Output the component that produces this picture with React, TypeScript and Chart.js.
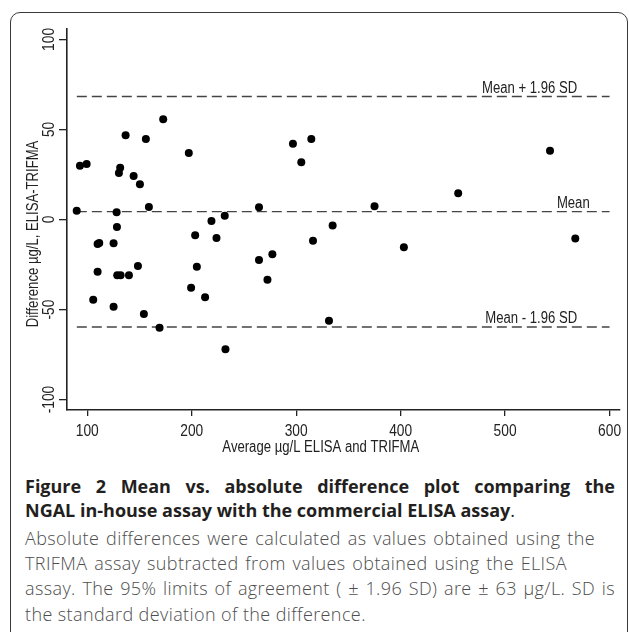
import React, { useEffect, useRef } from 'react';
import { Chart, registerables } from 'chart.js';

Chart.register(...registerables);

// Average of ELISA and TRIFMA (µg/L)
const avgValues = [
  89.9, 93.0, 99.4, 105.7, 109.9, 111.5, 109.9, 125.2, 125.2, 128.1,
  128.4, 130.3, 131.5, 128.7, 131.9, 136.7, 139.9, 144.4, 148.5, 150.4,
  154.2, 156.1, 159.0, 169.2, 172.7, 197.2, 199.4, 203.3, 204.9, 212.8,
  218.9, 223.7, 231.6, 232.3, 264.4, 264.4, 272.5, 277.2, 296.9, 304.9,
  314.5, 316.1, 331.4, 334.9, 375.0, 403.1, 455.1, 543.0, 567.2,
];
// Difference ELISA - TRIFMA (µg/L)
const diffValues = [
  4.9, 29.9, 30.8, -44.6, -13.6, -13.1, -29.0, -13.2, -48.4, 4.0,
  -4.2, 25.8, 28.8, -31.0, -31.0, 46.8, -31.0, 24.2, -25.8, 19.6,
  -52.5, 44.7, 6.9, -60.1, 55.7, 36.9, -37.9, -8.8, -26.2, -43.2,
  -0.8, -10.3, 2.1, -72.1, 6.8, -22.5, -33.4, -19.3, 42.1, 31.8,
  44.7, -11.8, -56.2, -3.4, 7.3, -15.4, 14.6, 38.2, -10.5,
];

const refLevels = [68.3, 4.4, -59.7];
const refLabels = ['Mean + 1.96 SD', 'Mean', 'Mean - 1.96 SD'];
const refLabelRight = [569, 581, 569];
const refLineRange = [90, 600];

const xTicks = [100, 200, 300, 400, 500, 600];
const yTicks = [-100, -50, 0, 50, 100];
const xRange = [80.6, 610];
const yRange = [-105.8, 105.8];

const xTitle = 'Average µg/L ELISA and TRIFMA';
const yTitle = 'Difference µg/L, ELISA-TRIFMA';

const captionBold1 = 'Figure 2 Mean vs. absolute difference plot comparing the';
const captionBold2 = 'NGAL in-house assay with the commercial ELISA assay';
const captionLines = [
  'Absolute differences were calculated as values obtained using the',
  'TRIFMA assay subtracted from values obtained using the ELISA',
  'assay. The 95% limits of agreement ( \u00b1 1.96 SD) are \u00b1 63 \u00b5g/L. SD is',
  'the standard deviation of the difference.',
];

const CHART_FONT = "'Liberation Sans', Arial, sans-serif";
const NARROW = 0.82;
const CAPTION_FONT = "'Open Sans', 'Noto Sans', sans-serif";

function narrowText(
  ctx: CanvasRenderingContext2D,
  text: string,
  x: number,
  y: number,
  align: CanvasTextAlign,
  baseline: CanvasTextBaseline,
  rotate = 0,
) {
  ctx.save();
  ctx.translate(x, y);
  if (rotate) ctx.rotate(rotate);
  ctx.scale(NARROW, 1);
  ctx.textAlign = align;
  ctx.textBaseline = baseline;
  ctx.fillText(text, 0, 0);
  ctx.restore();
}

export default function App() {
  const canvasRef = useRef<HTMLCanvasElement | null>(null);

  useEffect(() => {
    const canvas = canvasRef.current;
    if (!canvas) return;

    const textPlugin = {
      id: 'customText',
      afterDraw(chart: any) {
        const ctx = chart.ctx as CanvasRenderingContext2D;
        const xs = chart.scales.x;
        const ys = chart.scales.y;
        const area = chart.chartArea;
        ctx.save();
        ctx.fillStyle = '#222';
        ctx.font = `16.8px ${CHART_FONT}`;
        // x tick labels
        xs.ticks.forEach((t: any) => {
          narrowText(ctx, String(t.value), xs.getPixelForValue(t.value), area.bottom + 21, 'center', 'middle');
        });
        // y tick labels (rotated)
        ys.ticks.forEach((t: any) => {
          narrowText(ctx, String(t.value), area.left - 18, ys.getPixelForValue(t.value), 'center', 'middle', -Math.PI / 2);
        });
        // reference line labels
        ctx.font = `16px ${CHART_FONT}`;
        refLevels.forEach((lv, i) => {
          narrowText(ctx, refLabels[i], xs.getPixelForValue(refLabelRight[i]), ys.getPixelForValue(lv) - 4, 'right', 'alphabetic');
        });
        // axis titles
        ctx.font = `16px ${CHART_FONT}`;
        narrowText(ctx, xTitle, area.left + (area.right - area.left) * 0.459, area.bottom + 38, 'center', 'middle');
        narrowText(ctx, yTitle, area.left - 33, area.top + (area.bottom - area.top) * 0.538, 'center', 'middle', -Math.PI / 2);
        ctx.restore();
      },
    };

    const refDatasets = refLevels.map((lv) => ({
      data: refLineRange.map((x) => ({ x, y: lv })),
      showLine: true,
      borderColor: '#444',
      borderWidth: 1.3,
      borderDash: [10, 5],
      pointRadius: 0,
      fill: false,
    }));

    const chart = new Chart(canvas, {
      type: 'scatter',
      data: {
        datasets: [
          {
            data: avgValues.map((x, i) => ({ x, y: diffValues[i] })),
            backgroundColor: '#000',
            borderWidth: 0,
            pointRadius: 4,
            pointHoverRadius: 4,
          },
          ...refDatasets,
        ] as any,
      },
      options: {
        responsive: false,
        animation: false,
        layout: { padding: { top: 29, right: 9, left: 0, bottom: 0 } },
        plugins: { legend: { display: false }, tooltip: { enabled: false } },
        scales: {
          x: {
            type: 'linear',
            position: 'bottom',
            min: xRange[0],
            max: xRange[1],
            afterBuildTicks: (s: any) => {
              s.ticks = xTicks.map((v) => ({ value: v }));
            },
            afterFit: (s: any) => {
              s.height = 50;
            },
            grid: { drawOnChartArea: false, drawTicks: true, tickLength: 6, color: '#222', lineWidth: 1.3 },
            border: { display: true, color: '#222', width: 1.6 },
            ticks: { display: false },
          },
          y: {
            type: 'linear',
            position: 'left',
            min: yRange[0],
            max: yRange[1],
            afterBuildTicks: (s: any) => {
              s.ticks = yTicks.map((v) => ({ value: v }));
            },
            afterFit: (s: any) => {
              s.width = 67;
            },
            grid: { drawOnChartArea: false, drawTicks: true, tickLength: 8, color: '#222', lineWidth: 1.3 },
            border: { display: true, color: '#222', width: 1.6 },
            ticks: { display: false },
          },
        },
      } as any,
      plugins: [textPlugin],
    });

    return () => chart.destroy();
  }, []);

  const boldStyle: React.CSSProperties = {
    position: 'absolute',
    left: 25,
    fontFamily: CAPTION_FONT,
    fontWeight: 700,
    fontSize: 18,
    lineHeight: '20px',
    color: '#231f20',
    whiteSpace: 'nowrap',
  };
  const regStyle: React.CSSProperties = {
    position: 'absolute',
    left: 25,
    fontFamily: CAPTION_FONT,
    fontWeight: 300,
    fontSize: 18,
    letterSpacing: '0.4px',
    lineHeight: '20px',
    color: '#4d4d4d',
    whiteSpace: 'nowrap',
  };
  const regTops = [528, 553, 578, 604];
  const regWidths = [570, 542, 590, 0];

  return (
    <div
      style={{
        position: 'absolute',
        left: 0,
        top: 0,
        width: 629,
        height: 632,
        overflow: 'hidden',
        background: '#fff',
      }}
    >
      <div
        style={{
          position: 'absolute',
          left: 10,
          top: 12,
          width: 618,
          height: 700,
          border: '1.5px solid #3a3a3a',
          borderRadius: 10,
          boxSizing: 'border-box',
        }}
      />
      <canvas
        ref={canvasRef}
        width={629}
        height={460}
        style={{ position: 'absolute', left: 0, top: 0, width: 629, height: 460 }}
      />
      <div style={{ ...boldStyle, top: 476, width: 590, textAlign: 'justify', textAlignLast: 'justify', whiteSpace: 'normal' }}>
        {captionBold1}
      </div>
      <div style={{ ...boldStyle, top: 500 }}>
        {captionBold2}
        <span style={{ fontWeight: 400 }}>.</span>
      </div>
      {captionLines.map((line, i) => (
        <div
          key={i}
          style={
            regWidths[i] > 0
              ? { ...regStyle, top: regTops[i], width: regWidths[i], textAlign: 'justify', textAlignLast: 'justify', whiteSpace: 'normal' }
              : { ...regStyle, top: regTops[i] }
          }
        >
          {line}
        </div>
      ))}
    </div>
  );
}
